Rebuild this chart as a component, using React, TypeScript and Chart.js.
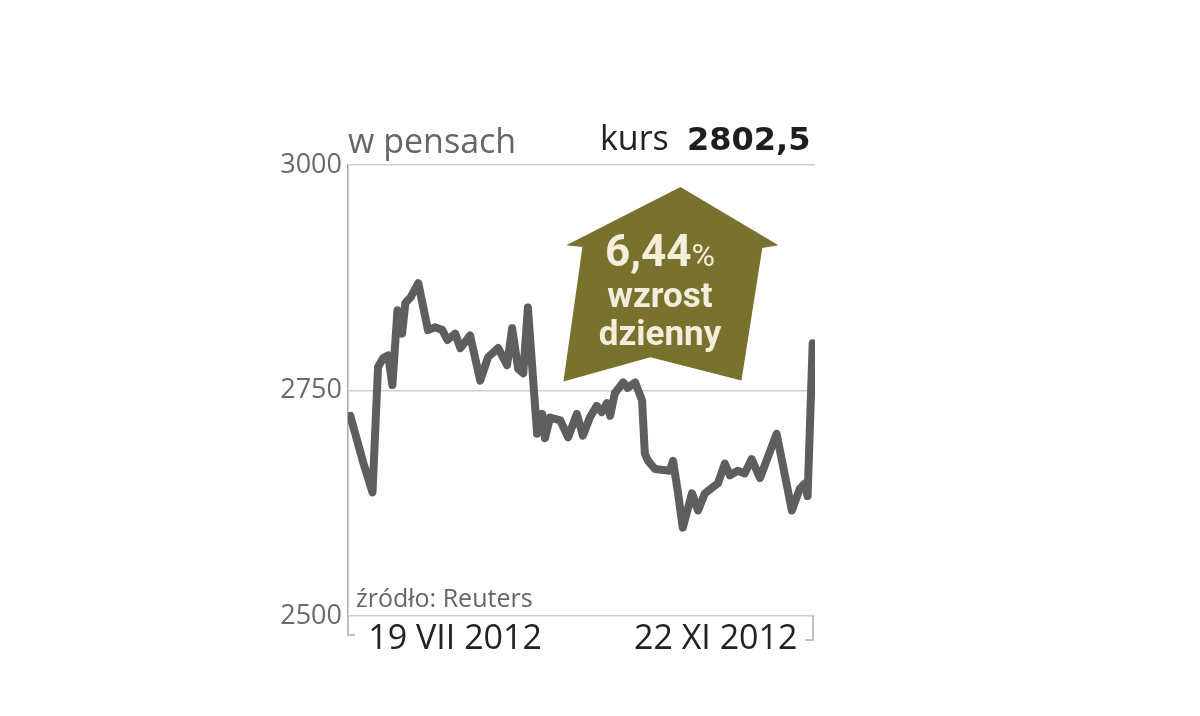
import { useEffect, useRef } from "react"
import { Chart, registerables } from "chart.js"

Chart.register(...registerables)

// kurs w pensach, sesje od 19 VII 2012 (x = numer sesji, odczyt z wykresu)
const sessions = [
  0, 2.8, 4.8, 6.0, 7.1, 8.2, 9.1, 10.2, 11.2, 11.9, 13.0, 14.7, 16.8, 18.4, 19.9, 21.0, 22.7, 23.8,
  25.9, 28.1, 29.8, 32.0, 33.9, 35.0, 36.3, 37.4, 38.4, 40.4, 41.5, 42.1, 43.2, 45.4, 47.1, 49.0,
  50.3, 51.8, 53.3, 54.4, 55.5, 56.2, 57.2, 59.0, 60.0, 61.6, 63.1, 63.7, 64.4, 65.9, 69.1, 69.8,
  70.8, 71.9, 73.9, 75.2, 76.7, 78.2, 79.5, 81.0, 82.1, 83.8, 85.3, 86.8, 88.6, 92.2, 95.5, 97.2,
  98.3, 98.9, 100,
]
const prices = [
  2722, 2670, 2637, 2776, 2786, 2789, 2756, 2839, 2813, 2847, 2853, 2869, 2817, 2820, 2817, 2806, 2813, 2797,
  2811, 2761, 2787, 2797, 2778, 2819, 2774, 2769, 2842, 2702, 2724, 2697, 2720, 2717, 2698, 2724,
  2700, 2720, 2733, 2726, 2736, 2722, 2747, 2759, 2753, 2759, 2739, 2680, 2672, 2663, 2661, 2672,
  2639, 2598, 2636, 2617, 2636, 2642, 2647, 2669, 2656, 2661, 2658, 2674, 2653, 2702, 2617, 2641,
  2647, 2633, 2802.5,
]

const yTicks = [2500, 2750, 3000]
const dateLabels = ["19 VII 2012", "22 XI 2012"]
const datePositions = [3.9, 96.7]

// strzałka "wzrost dzienny" w jednostkach danych
const arrowX = [71.4, 92.6, 89.1, 84.6, 64.9, 46.1, 50.2, 46.7]
const arrowY = [2975.6, 2911, 2908, 2761, 2787, 2760, 2909, 2911]

const frame = {
  id: "frame",
  beforeDatasetsDraw(chart: Chart) {
    const { ctx, scales } = chart
    const x = scales.x
    const y = scales.y
    ctx.save()
    ctx.fillStyle = "#78722e"
    ctx.beginPath()
    arrowX.forEach((v, i) => {
      const px = x.getPixelForValue(v)
      const py = y.getPixelForValue(arrowY[i])
      if (i === 0) ctx.moveTo(px, py)
      else ctx.lineTo(px, py)
    })
    ctx.closePath()
    ctx.fill()
    ctx.restore()
  },
  afterDraw(chart: Chart) {
    const { ctx, chartArea } = chart
    ctx.save()
    ctx.strokeStyle = "#aaaaaa"
    ctx.lineWidth = 1.5
    ctx.beginPath()
    ctx.moveTo(chartArea.left, chartArea.bottom)
    ctx.lineTo(chartArea.left, chartArea.bottom + 19)
    ctx.lineTo(chartArea.left + 7, chartArea.bottom + 19)
    ctx.moveTo(chartArea.right - 2, chartArea.bottom)
    ctx.lineTo(chartArea.right - 2, chartArea.bottom + 24)
    ctx.lineTo(chartArea.right - 10, chartArea.bottom + 24)
    ctx.stroke()
    ctx.restore()
  },
}

const PriceChart = () => {
  const chartRef = useRef<HTMLCanvasElement | null>(null)
  const chartInstance = useRef<Chart | null>(null)

  useEffect(() => {
    if (!chartRef.current) return
    const ctx = chartRef.current.getContext("2d")
    if (!ctx) return
    if (chartInstance.current) chartInstance.current.destroy()

    chartInstance.current = new Chart(ctx, {
      type: "line",
      data: {
        datasets: [
          {
            label: "kurs",
            data: sessions.map((s, i) => ({ x: s, y: prices[i] })),
            borderColor: "#5e5e5e",
            borderWidth: 8,
            pointRadius: 0,
            tension: 0,
            borderJoinStyle: "round",
            borderCapStyle: "round",
          },
        ],
      },
      options: {
        responsive: false,
        animation: false,
        layout: { padding: { top: 165, right: 385, left: 0, bottom: 0 } },
        plugins: { legend: { display: false }, tooltip: { enabled: false } },
        scales: {
          x: {
            type: "linear",
            min: -0.5,
            max: 100.5,
            grid: { display: false },
            border: { display: false },
            afterFit: (s: any) => {
              s.height = 100
            },
            afterBuildTicks: (s: any) => {
              s.ticks = datePositions.map((v) => ({ value: v }))
            },
            ticks: {
              autoSkip: false,
              maxRotation: 0,
              align: "inner",
              padding: -5,
              color: "#222222",
              font: { family: "'Open Sans'", size: 34 },
              callback: (_v: any, i: number) => dateLabels[i],
            },
          },
          y: {
            min: 2500,
            max: 3000,
            afterFit: (s: any) => {
              s.width = 348
            },
            afterBuildTicks: (s: any) => {
              s.ticks = yTicks.map((v) => ({ value: v }))
            },
            grid: { color: "#cfcfcf", lineWidth: 1.5, drawTicks: false },
            border: { display: true, color: "#aaaaaa", width: 1.5 },
            ticks: {
              padding: 6,
              color: "#6a6a6a",
              font: { family: "'Open Sans'", size: 27 },
              callback: (v: any) => String(v),
            },
          },
        },
      },
      plugins: [frame],
    })

    return () => {
      if (chartInstance.current) {
        chartInstance.current.destroy()
        chartInstance.current = null
      }
    }
  }, [])

  return <canvas ref={chartRef} width={1200} height={716} />
}

const txt = (extra: React.CSSProperties): React.CSSProperties => ({
  position: "absolute",
  whiteSpace: "nowrap",
  margin: 0,
  ...extra,
})

export default function App() {
  return (
    <div style={{ position: "fixed", top: 0, left: 0, width: 1200, height: 716, background: "#fff" }}>
      <PriceChart />
      <div style={txt({ left: 348, top: 123, font: "34px 'Open Sans'", lineHeight: "34px", color: "#666" })}>
        w pensach
      </div>
      <div style={txt({ left: 600, top: 120, font: "34px 'Open Sans'", lineHeight: "34px", color: "#222" })}>
        kurs
      </div>
      <div
        style={txt({
          left: 687,
          top: 123,
          font: "bold 32px 'DejaVu Sans'",
          lineHeight: "32px",
          color: "#1e1e1e",
        })}
      >
        2802,5
      </div>
      <div style={txt({ left: 356, top: 585, font: "25px 'Open Sans'", lineHeight: "25px", color: "#666" })}>
        źródło: Reuters
      </div>
      <div
        style={txt({
          left: 560,
          top: 229,
          width: 200,
          textAlign: "center",
          color: "#f3eedc",
          fontFamily: "Roboto",
          fontWeight: 700,
        })}
      >
        <div style={{ fontSize: 44, lineHeight: "44px" }}>
          6,44<span style={{ fontSize: 32, fontWeight: 400 }}>%</span>
        </div>
        <div style={{ fontSize: 35, lineHeight: "38px" }}>wzrost</div>
        <div style={{ fontSize: 35, lineHeight: "38px" }}>dzienny</div>
      </div>
    </div>
  )
}
